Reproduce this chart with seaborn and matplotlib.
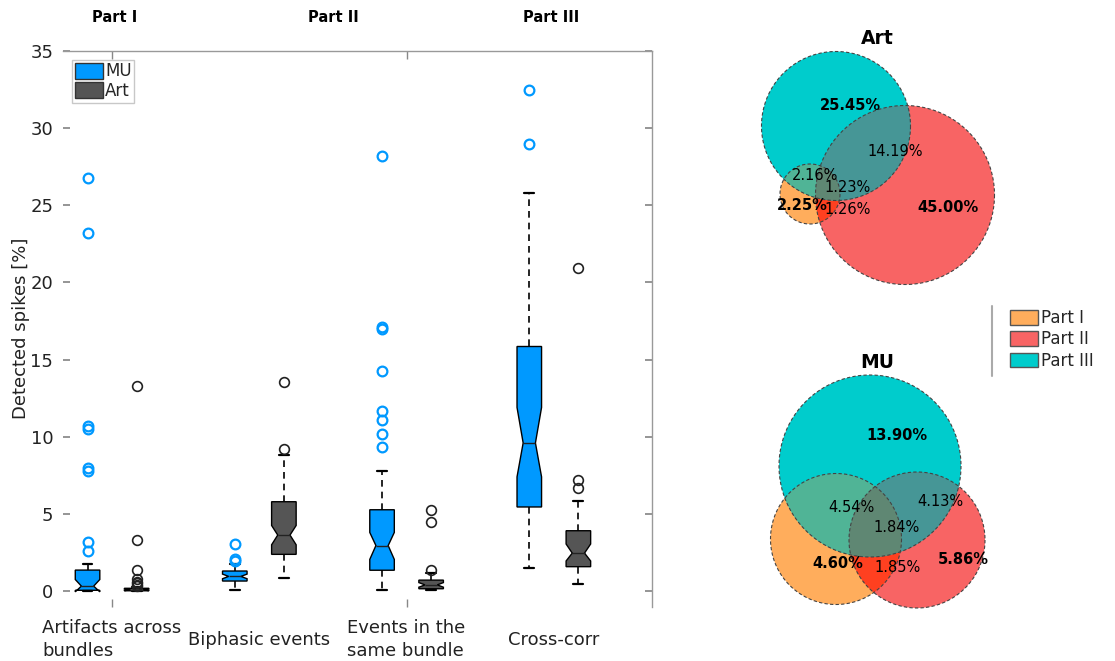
import numpy as np
import matplotlib
matplotlib.use("Agg")
import matplotlib.pyplot as plt
import seaborn as sns
from matplotlib.patches import Patch, Polygon
from matplotlib.transforms import blended_transform_factory

# ---------------- data ----------------
categories = ["Artifacts across\nbundles", "Biphasic events", "Events in the\nsame bundle", "Cross-corr"]
series = ["MU", "Art"]
parts = ["Part I", "Part II", "Part III"]

mu_q1 = [0.05, 0.65, 1.35, 5.45]
mu_med = [0.32, 0.95, 2.95, 9.6]
mu_q3 = [1.36, 1.30, 5.27, 15.85]
mu_wlo = [0.0, 0.10, 0.10, 1.50]
mu_whi = [1.73, 1.77, 7.78, 25.8]
mu_cilo = [-0.05, 0.80, 2.05, 7.40]
mu_cihi = [0.75, 1.10, 3.80, 11.9]
mu_fliers = [[2.6, 3.2, 7.8, 8.0, 10.5, 10.7, 23.2, 26.8],
             [1.95, 2.05, 3.07],
             [9.33, 10.2, 11.08, 11.66, 14.27, 17.0, 17.1, 28.2],
             [29.0, 32.5]]

art_q1 = [0.02, 2.38, 0.15, 1.58]
art_med = [0.08, 3.63, 0.40, 2.46]
art_q3 = [0.18, 5.79, 0.71, 3.91]
art_wlo = [0.0, 0.82, 0.05, 0.48]
art_whi = [0.25, 8.79, 1.14, 5.85]
art_cilo = [0.03, 3.00, 0.25, 1.95]
art_cihi = [0.13, 4.25, 0.55, 3.05]
art_fliers = [[0.3, 0.4, 0.5, 0.6, 0.75, 1.34, 3.3, 13.3],
              [9.18, 13.57],
              [1.35, 4.47, 5.25],
              [6.7, 7.17, 20.95]]

# Venn region values (%), regions: I only, II only, III only, I&II, I&III, II&III, I&II&III
venn_regions = ["100", "010", "001", "110", "101", "011", "111"]
art_venn = [2.25, 45.00, 25.45, 1.26, 2.16, 14.19, 1.23]
mu_venn = [4.60, 5.86, 13.90, 1.85, 4.54, 4.13, 1.84]

# ---------------- style ----------------
sns.set_theme(style="white")
plt.rcParams["font.family"] = ["DejaVu Sans"]

mu_color = "#0099FF"
art_color = "#555555"
part_colors = {"100": "#FFAD5C", "010": "#F86464", "001": "#00CCCC",
               "110": "#FF4020", "101": "#50B496", "011": "#469696", "111": "#5F8773"}

fig = plt.figure(figsize=(11.15, 6.61), dpi=100)
ax = fig.add_axes([63 / 1115, 1 - 606.5 / 661, 589 / 1115, 555.5 / 661])


def stats(q1, med, q3, wlo, whi, cilo, cihi, fl):
    return [dict(q1=a, med=b, q3=c, whislo=d, whishi=e, cilo=f, cihi=g, fliers=h)
            for a, b, c, d, e, f, g, h in zip(q1, med, q3, wlo, whi, cilo, cihi, fl)]


mu_stats = stats(mu_q1, mu_med, mu_q3, mu_wlo, mu_whi, mu_cilo, mu_cihi, mu_fliers)
art_stats = stats(art_q1, art_med, art_q3, art_wlo, art_whi, art_cilo, art_cihi, art_fliers)

n = len(categories)
mu_pos = [3 * i for i in range(n)]
art_pos = [3 * i + 1 for i in range(n)]

common = dict(shownotches=True, patch_artist=True, widths=0.5, capwidths=0.2,
              whiskerprops=dict(color="black", lw=1.2, linestyle=(0, (4, 3))),
              capprops=dict(color="black", lw=1.6),
              medianprops=dict(color="#222222", lw=1.0))
ax.bxp(mu_stats, positions=mu_pos,
       boxprops=dict(facecolor=mu_color, edgecolor="black", lw=1.0),
       flierprops=dict(marker="o", markerfacecolor="none", markeredgecolor=mu_color,
                       markersize=7, markeredgewidth=1.6),
       **common)
ax.bxp(art_stats, positions=art_pos,
       boxprops=dict(facecolor=art_color, edgecolor="black", lw=1.0),
       flierprops=dict(marker="o", markerfacecolor="none", markeredgecolor="#222222",
                       markersize=7, markeredgewidth=1.2),
       **common)

ax.set_xlim(-0.5, 11.5)
ax.set_ylim(-1, 35)
ax.set_yticks(range(0, 36, 5))
ax.set_xticks([])
ax.set_xticks([0.5, 6.5], minor=True)
ax.tick_params(axis="x", which="minor", direction="in", top=True, bottom=True,
               length=6, color="#888888", labelbottom=False)
ax.tick_params(axis="y", direction="in", left=True, right=True, length=5,
               color="#888888", labelsize=13, labelcolor="#222222", pad=7)
for s in ["left", "bottom"]:
    ax.spines[s].set_visible(False)
for s in ["top", "right"]:
    ax.spines[s].set_color("#999999")
    ax.spines[s].set_linewidth(1.0)
ax.set_ylabel("Detected spikes [%]", fontsize=13, color="#222222", labelpad=0)

trans = blended_transform_factory(ax.transData, ax.transAxes)
for i, cat in enumerate(categories):
    ax.text(3 * i + 0.5, -0.06, cat, transform=trans, ha="center", va="center",
            multialignment="left", fontsize=13, color="#222222", linespacing=1.35)

part_x = [0.55, 5.0, 9.45]
for px, label in zip(part_x, parts):
    ax.text(px, 1.0 + 33 / 555.5, label, transform=trans, ha="center", va="center",
            fontsize=10.5, fontweight="bold", color="black")

leg = ax.legend(handles=[Patch(facecolor=mu_color, edgecolor="#333333", label="MU"),
                         Patch(facecolor=art_color, edgecolor="#333333", label="Art")],
                loc="upper left", bbox_to_anchor=(0.016, 0.984), fontsize=12,
                frameon=True, fancybox=False, borderpad=0.15, labelspacing=0.1,
                handlelength=1.7, handleheight=1.1, handletextpad=0.1, borderaxespad=0)
leg.get_frame().set_edgecolor("#BBBBBB")
leg.get_frame().set_linewidth(1.0)

# ---------------- Venn diagrams ----------------
vax = fig.add_axes([660 / 1115, 0, 455 / 1115, 1])
vax.set_xlim(660, 1115)
vax.set_ylim(661, 0)
vax.axis("off")


def circle_poly(c, r, k=240):
    t = np.linspace(0, 2 * np.pi, k, endpoint=False)
    return [(c[0] + r * np.cos(a), c[1] + r * np.sin(a)) for a in t]


def clip(subject, clipper):
    def inside(p, a, b):
        return (b[0] - a[0]) * (p[1] - a[1]) - (b[1] - a[1]) * (p[0] - a[0]) >= 0

    def inter(p1, p2, a, b):
        x1, y1 = p1; x2, y2 = p2; x3, y3 = a; x4, y4 = b
        den = (x1 - x2) * (y3 - y4) - (y1 - y2) * (x3 - x4)
        t = ((x1 - x3) * (y3 - y4) - (y1 - y3) * (x3 - x4)) / den
        return (x1 + t * (x2 - x1), y1 + t * (y2 - y1))

    out = subject
    m = len(clipper)
    for i in range(m):
        a, b = clipper[i], clipper[(i + 1) % m]
        inp, out = out, []
        if not inp:
            break
        prev = inp[-1]
        for cur in inp:
            ci, pi = inside(cur, a, b), inside(prev, a, b)
            if ci:
                if not pi:
                    out.append(inter(prev, cur, a, b))
                out.append(cur)
            elif pi:
                out.append(inter(prev, cur, a, b))
            prev = cur
    return out


def draw_venn(circles, values, label_pos, title, title_xy):
    polys = [circle_poly(c, r) for c, r in circles]
    for key, poly in zip(["100", "010", "001"], polys):
        vax.add_patch(Polygon(poly, closed=True, facecolor=part_colors[key], edgecolor="none"))
    pairs = {"110": (0, 1), "101": (0, 2), "011": (1, 2)}
    for key, (i, j) in pairs.items():
        p = clip(polys[i], polys[j])
        if p:
            vax.add_patch(Polygon(p, closed=True, facecolor=part_colors[key], edgecolor="none"))
    p = clip(clip(polys[0], polys[1]), polys[2])
    if p:
        vax.add_patch(Polygon(p, closed=True, facecolor=part_colors["111"], edgecolor="none"))
    for poly in polys:
        vax.add_patch(Polygon(poly, closed=True, facecolor="none", edgecolor="#444444",
                              lw=0.8, linestyle=(0, (3, 2))))
    for key, v in zip(venn_regions, values):
        x, y = label_pos[key]
        vax.text(x, y, f"{v:.2f}%", ha="center", va="center", fontsize=10.5,
                 fontweight="bold" if key.count("1") == 1 else "normal", color="black")
    vax.text(title_xy[0], title_xy[1], title, ha="center", va="center", fontsize=13.5,
             fontweight="bold", color="black")


art_circles = [((810, 194), 30), ((905, 195), 89.5), ((836, 126), 74.5)]
art_labels = {"100": (802, 206), "010": (948, 208), "001": (850, 106), "110": (848, 209),
              "101": (815, 175), "011": (895, 152), "111": (848, 187)}
draw_venn(art_circles, art_venn, art_labels, "Art", (877, 38))

mu_circles = [((836, 539), 65.5), ((917, 540), 68), ((870, 466), 91)]
mu_labels = {"100": (838, 564), "010": (963, 559), "001": (897, 435), "110": (898, 568),
             "101": (851, 507), "011": (940, 502), "111": (897, 527)}
draw_venn(mu_circles, mu_venn, mu_labels, "MU", (877, 362))

vleg = vax.legend(handles=[Patch(facecolor=part_colors[k], edgecolor="#555555", label=p)
                           for k, p in zip(["100", "010", "001"], parts)],
                  loc="upper left", bbox_to_anchor=(1010, 309), bbox_transform=vax.transData,
                  fontsize=12, frameon=False, borderpad=0, labelspacing=0.2,
                  handlelength=1.7, handleheight=1.0, handletextpad=0.15, borderaxespad=0)
vax.plot([992, 992], [306, 376], color="#AAAAAA", lw=1.5)

fig.savefig("out.png", dpi=100)
